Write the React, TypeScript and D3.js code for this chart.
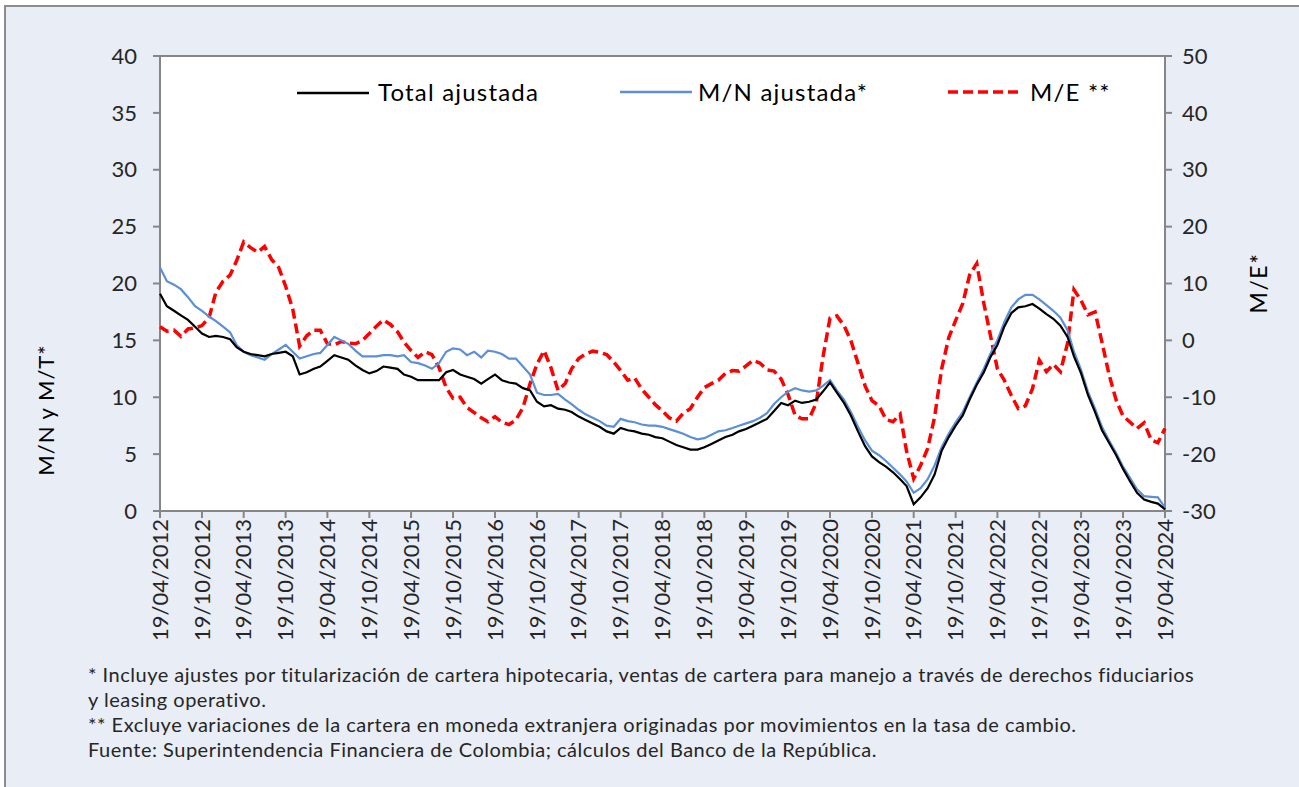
import React from "react";
import * as d3 from "d3";

// monthly readings, 19/04/2012 .. 19/04/2024
const totalAjustada = [
  19.1, 18.0, 17.6, 17.2, 16.8, 16.2, 15.6, 15.3, 15.4, 15.3,
  15.1, 14.4, 14.0, 13.8, 13.7, 13.6, 13.8, 13.9, 14.0, 13.6,
  12.0, 12.2, 12.5, 12.7, 13.2, 13.7, 13.5, 13.3, 12.8, 12.4,
  12.1, 12.3, 12.7, 12.6, 12.5, 12.0, 11.8, 11.5, 11.5, 11.5,
  11.5, 12.2, 12.4, 12.0, 11.8, 11.6, 11.2, 11.6, 12.0, 11.5,
  11.3, 11.2, 10.8, 10.6, 9.6, 9.2, 9.3, 9.0, 8.9, 8.7,
  8.3, 8.0, 7.7, 7.4, 7.0, 6.8, 7.3, 7.1, 7.0, 6.8,
  6.7, 6.5, 6.4, 6.1, 5.8, 5.6, 5.4, 5.4, 5.6, 5.9,
  6.2, 6.5, 6.7, 7.0, 7.2, 7.5, 7.8, 8.1, 8.8, 9.5,
  9.3, 9.7, 9.5, 9.6, 9.8, 10.5, 11.3, 10.4, 9.5, 8.4,
  7.0, 5.7, 4.8, 4.3, 3.9, 3.4, 2.8, 2.2, 0.6, 1.2,
  2.0, 3.2, 5.3, 6.5, 7.5, 8.4, 9.8, 11.1, 12.2, 13.5,
  14.6, 16.2, 17.4, 17.9, 18.0, 18.2, 17.8, 17.3, 16.9, 16.3,
  15.3, 13.6, 12.1, 10.2, 8.7, 7.1, 6.0, 4.9, 3.7, 2.6,
  1.6, 1.0, 0.8, 0.65, 0.15,
];

const mnAjustada = [
  21.4, 20.2, 19.9, 19.5, 18.8, 18.0, 17.6, 17.1, 16.7, 16.2,
  15.7, 14.6, 14.0, 13.7, 13.5, 13.3, 13.8, 14.2, 14.6, 14.0,
  13.4, 13.6, 13.8, 13.9, 14.6, 15.3, 15.0, 14.7, 14.1, 13.6,
  13.6, 13.6, 13.7, 13.7, 13.6, 13.7, 13.1, 13.0, 12.8, 12.5,
  13.0, 14.0, 14.3, 14.2, 13.7, 14.0, 13.5, 14.1, 14.0, 13.8,
  13.4, 13.4, 12.7, 12.0, 10.4, 10.2, 10.2, 10.3, 9.8, 9.4,
  8.9, 8.5, 8.2, 7.9, 7.5, 7.4, 8.1, 7.9, 7.8, 7.6,
  7.5, 7.5, 7.4, 7.2, 7.0, 6.8, 6.5, 6.3, 6.4, 6.7,
  7.0, 7.1, 7.3, 7.5, 7.7, 7.9, 8.2, 8.6, 9.4, 10.0,
  10.5, 10.8, 10.6, 10.5, 10.6, 11.0, 11.5, 10.6, 9.8, 8.7,
  7.4, 6.2, 5.3, 4.9, 4.4, 3.8, 3.2, 2.6, 1.6, 2.0,
  2.8, 4.0, 5.6, 6.8, 7.8, 8.7, 10.0, 11.3, 12.5, 13.8,
  15.0, 16.6, 17.9, 18.6, 19.0, 19.0, 18.6, 18.1, 17.6, 17.0,
  15.9, 14.0, 12.4, 10.5, 9.0, 7.4, 6.2, 5.1, 3.9, 2.9,
  1.9, 1.3, 1.25, 1.2, 0.3,
];

const meSerie = [
  2.4, 1.6, 1.8, 0.7, 2.0, 2.2, 2.6, 4.0, 8.5, 10.4,
  11.5, 14.0, 17.3, 16.3, 15.5, 16.5, 14.2, 12.8, 9.5, 5.5,
  -1.0, 0.8, 1.8, 1.8, -0.6, -0.8, -0.2, -0.5, -0.6, 0.0,
  1.2, 2.5, 3.6, 2.8, 1.5, -0.3, -1.8, -3.0, -2.0, -2.5,
  -4.8, -8.3, -10.2, -10.0, -11.8, -12.7, -13.6, -14.3, -13.4, -14.4,
  -14.8, -14.0, -11.8, -7.6, -4.2, -1.8, -4.8, -8.8, -7.6, -5.0,
  -3.2, -2.4, -1.9, -2.1, -2.5, -3.8, -5.3, -7.0, -6.6, -8.6,
  -10.0, -11.3, -12.4, -13.6, -14.2, -12.8, -12.0, -10.0, -8.3, -7.6,
  -7.0, -5.8, -5.3, -5.4, -4.5, -3.5, -4.0, -5.2, -5.4, -6.8,
  -9.5, -13.2, -13.8, -13.8, -11.0, -3.0, 3.9, 4.3, 2.6, 0.0,
  -4.0, -8.0, -10.6, -11.5, -13.9, -14.3, -13.0, -19.5, -24.3, -22.0,
  -19.0, -13.5, -5.0, 0.5, 3.5, 6.5, 11.5, 13.5, 6.5, 1.0,
  -5.0, -7.0, -9.7, -12.0, -11.5, -8.5, -3.5, -5.5, -4.2, -5.5,
  -0.5, 8.9, 7.0, 4.5, 5.0, -0.3, -6.0, -10.5, -13.3, -14.4,
  -15.5, -14.5, -17.5, -18.0, -15.5,
];

const leftTicks = [0, 5, 10, 15, 20, 25, 30, 35, 40];
const rightTicks = [-30, -20, -10, 0, 10, 20, 30, 40, 50];

const notes = [
  "* Incluye ajustes por titularización de cartera hipotecaria, ventas de cartera para manejo a través de derechos fiduciarios",
  "y leasing operativo.",
  "** Excluye variaciones de la cartera en moneda extranjera originadas por movimientos en la tasa de cambio.",
  "Fuente: Superintendencia Financiera de Colombia; cálculos del Banco de la República.",
];

const W = 1299;
const H = 787;
const FONT = "Lato, 'Open Sans', sans-serif";
const AXIS = "#868686";

const start = new Date(2012, 3, 19);
const end = new Date(2024, 3, 19);
const dates = totalAjustada.map((_, i) => d3.timeMonth.offset(start, i));
const tickDates = d3.range(25).map((i) => d3.timeMonth.offset(start, i * 6));
const fmt = d3.timeFormat("%d/%m/%Y");

export default function App() {
  const m = { left: 160, right: 1165, top: 56, bottom: 511 };
  const x = d3.scaleTime().domain([start, end]).range([m.left, m.right]);
  const yL = d3.scaleLinear().domain([0, 40]).range([m.bottom, m.top]);
  const yR = d3.scaleLinear().domain([-30, 50]).range([m.bottom, m.top]);

  const lineL = d3
    .line<number>()
    .x((_, i) => x(dates[i]))
    .y((d) => yL(d));
  const lineR = d3
    .line<number>()
    .x((_, i) => x(dates[i]))
    .y((d) => yR(d));

  const legendText = { fontSize: 24, letterSpacing: 1.2, fill: "#000" };

  return (
    <div style={{ position: "absolute", left: 0, top: 0 }}>
      <svg width={W} height={H} style={{ display: "block" }} fontFamily={FONT}>
        <rect x={5} y={6} width={W + 10} height={H + 10} fill="#E9EDF5" stroke="#8C8C8C" strokeWidth={2} />
        <rect x={m.left} y={m.top} width={m.right - m.left} height={m.bottom - m.top} fill="#fff" stroke={AXIS} strokeWidth={2} />

        {/* left axis */}
        {leftTicks.map((t) => (
          <g key={"l" + t}>
            <line x1={m.left - 7} x2={m.left} y1={yL(t)} y2={yL(t)} stroke={AXIS} strokeWidth={2} />
            <text x={m.left - 23} y={yL(t)} dy="0.35em" textAnchor="end" fontSize={22} fill="#262626">
              {t}
            </text>
          </g>
        ))}
        {/* right axis */}
        {rightTicks.map((t) => (
          <g key={"r" + t}>
            <line x1={m.right} x2={m.right + 7} y1={yR(t)} y2={yR(t)} stroke={AXIS} strokeWidth={2} />
            <text x={m.right + 17} y={yR(t)} dy="0.35em" textAnchor="start" fontSize={22} fill="#262626">
              {t}
            </text>
          </g>
        ))}
        {/* bottom axis */}
        {tickDates.map((d, i) => (
          <g key={"x" + i}>
            <line x1={x(d)} x2={x(d)} y1={m.bottom} y2={m.bottom + 7} stroke={AXIS} strokeWidth={2} />
            <text
              transform={`translate(${x(d)},${m.bottom + 8}) rotate(-90)`}
              dy="0.35em"
              textAnchor="end"
              fontSize={22}
              fill="#262626"
            >
              {fmt(d)}
            </text>
          </g>
        ))}

        <text transform="translate(54,410) rotate(-90)" textAnchor="middle" fontSize={22} letterSpacing={1} fill="#000">
          M/N y M/T*
        </text>
        <text transform="translate(1267,283) rotate(-90)" textAnchor="middle" fontSize={23} letterSpacing={1.5} fill="#000">
          M/E*
        </text>

        {/* series */}
        <path d={lineR(meSerie) || ""} fill="none" stroke="#FF0000" strokeWidth={3.5} strokeDasharray="10,5" />
        <path d={lineL(mnAjustada) || ""} fill="none" stroke="#5B8FD6" strokeWidth={2.2} />
        <path d={lineL(totalAjustada) || ""} fill="none" stroke="#000" strokeWidth={2.2} />

        {/* legend */}
        <line x1={297} x2={369} y1={93} y2={93} stroke="#000" strokeWidth={2.5} />
        <text x={378} y={93} dy="0.35em" {...legendText}>Total ajustada</text>
        <line x1={620} x2={692} y1={92} y2={92} stroke="#5B8FD6" strokeWidth={2.5} />
        <text x={698} y={93} dy="0.35em" {...legendText}>M/N ajustada*</text>
        <line x1={948} x2={1022} y1={92} y2={92} stroke="#FF0000" strokeWidth={3.5} strokeDasharray="10,5" />
        <text x={1030} y={93} dy="0.35em" {...legendText}>M/E **</text>

        {/* notes */}
        {notes.map((n, i) => (
          <text key={i} x={88} y={682 + i * 25} fontSize={20} letterSpacing={0.5} fill="#262626">
            {n}
          </text>
        ))}
      </svg>
    </div>
  );
}
